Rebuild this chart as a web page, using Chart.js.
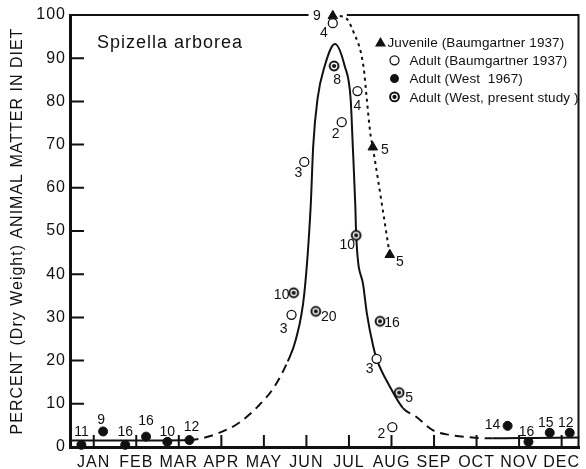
<!DOCTYPE html>
<html>
<head>
<meta charset="utf-8">
<script src="https://cdn.jsdelivr.net/npm/chart.js@4.4.1/dist/chart.umd.min.js"></script>
<style>
html,body{margin:0;padding:0;background:#fff;}
#wrap{width:586px;height:469px;}
canvas{display:block;}
</style>
</head>
<body>
<div id="wrap"><canvas id="c" width="586" height="469"></canvas></div>
<script>
// ---- categories / ticks ----
const monthLabels = ['JAN','FEB','MAR','APR','MAY','JUN','JUL','AUG','SEP','OCT','NOV','DEC'];
const yTicks = [0,10,20,30,40,50,60,70,80,90,100];

// ---- Juvenile (Baumgartner 1937) ----
const juvX = [5.62, 6.56, 6.96];
const juvY = [99.8, 69.4, 44.5];
const juvN = ['9','5','5'];

// ---- Adult (Baumgartner 1937) ----
const baumX = [5.62, 6.20, 5.83, 4.95, 4.65, 6.65, 7.02];
const baumY = [98.1, 82.4, 75.2, 66.0, 30.6, 20.4, 4.6];
const baumN = ['4','4','2','3','3','3','2'];

// ---- Adult (West 1967) ----
const west67X = [-0.29, 0.22, 0.74, 1.23, 1.73, 2.25, 9.73, 10.22, 10.72, 11.19];
const west67Y = [0.5, 3.6, 0.5, 2.4, 1.2, 1.6, 4.9, 1.2, 3.3, 3.3];
const west67N = ['11','9','16','16','10','12','14','16','15','12'];

// ---- Adult (West, present study) ----
const westX = [5.65, 6.17, 4.70, 5.22, 6.73, 7.18];
const westY = [88.2, 49.0, 35.7, 31.4, 29.1, 12.6];
const westN = ['8','10','10','20','16','5'];

// ---- fitted adult curve ----
const curveX = [-0.56, 0.5, 1.5, 2.25, 2.54, 2.93, 3.40, 3.86, 4.25, 4.56, 4.75, 4.95, 5.10, 5.16, 5.26, 5.43, 5.67, 5.90, 6.04, 6.09, 6.15, 6.17, 6.34, 6.42, 6.57, 6.65, 6.96, 7.27, 7.58, 7.97, 8.36, 8.90, 9.37, 10.37, 11.42];
const curveY = [1.5, 1.5, 1.5, 1.6, 2.0, 3.2, 5.5, 9.4, 14.0, 19.8, 24.8, 35.5, 55.7, 69.7, 80.5, 88.2, 93.3, 88.2, 80.5, 69.7, 55.7, 49.0, 37.2, 31.0, 23.3, 20.4, 14.0, 9.0, 7.0, 3.9, 2.8, 2.2, 2.0, 2.1, 2.2];
const curveDashedRanges = [[3, 9], [27, 32]]; // index ranges drawn dashed

// ---- juvenile trend (dotted) ----
const juvCurveX = [5.62, 5.88, 6.11, 6.34, 6.42, 6.50, 6.56, 6.96];
const juvCurveY = [99.8, 99.6, 96.0, 88.2, 80.5, 72.8, 69.4, 44.5];

// ---- label placement offsets (px) for sample sizes ----
const juvOff = [[-16,0],[12,3],[10,7]];
const baumOff = [[-9,10],[0,15],[-6,12],[-6,11],[-8,14],[-7,10],[-11,7]];
const west67Off = [[0,-13],[-2,-11],[0,-13],[0,-15],[0,-10],[2,-13],[-15,-1],[-2,-10],[-4,-10],[-4,-10]];
const westOff = [[3,14],[-9,10],[-12,2],[13,6],[12,2],[10,6]];

const INK = '#111';
const FONT = '"Liberation Sans", Arial, sans-serif';

function pts(xs, ys){ return xs.map((v,i)=>({x:v, y:ys[i]})); }

function drawBull(g, cx, cy){
  g.beginPath(); g.arc(cx, cy, 4.4, 0, Math.PI*2); g.fillStyle = '#fff'; g.fill();
  g.lineWidth = 2; g.strokeStyle = INK; g.stroke();
  g.beginPath(); g.arc(cx, cy, 2.1, 0, Math.PI*2); g.fillStyle = INK; g.fill();
}
function makeBull(){
  const c = document.createElement('canvas'); c.width = 14; c.height = 14;
  drawBull(c.getContext('2d'), 7, 7);
  return c;
}
const bull = makeBull();

const series = [
  {x:juvX, y:juvY, n:juvN, off:juvOff},
  {x:baumX, y:baumY, n:baumN, off:baumOff},
  {x:west67X, y:west67Y, n:west67N, off:west67Off},
  {x:westX, y:westY, n:westN, off:westOff}
];

const decor = {
  id: 'decor',
  beforeDraw(chart){ chart.ctx.letterSpacing = '1px'; },
  beforeDatasetsDraw(chart){
    const {ctx, chartArea:a, scales:{x, y}} = chart;
    ctx.save();
    ctx.strokeStyle = INK; ctx.lineWidth = 2;
    ctx.beginPath();
    ctx.moveTo(a.left, a.top); ctx.lineTo(x.getPixelForValue(5.05), a.top);
    ctx.moveTo(x.getPixelForValue(5.95), a.top); ctx.lineTo(a.right, a.top);
    ctx.moveTo(a.right - 1, a.top); ctx.lineTo(a.right - 1, a.bottom);
    yTicks.forEach(v => { if (v > 0 && v < 100){ const py = y.getPixelForValue(v); ctx.moveTo(a.left, py); ctx.lineTo(a.left + 14, py); } });
    monthLabels.forEach((m, i) => { const px = x.getPixelForValue(i); ctx.moveTo(px, a.bottom); ctx.lineTo(px, a.bottom - 12); });
    ctx.stroke();
    ctx.restore();
  },
  afterDatasetsDraw(chart){
    const {ctx, chartArea:a, scales:{x, y}} = chart;
    ctx.save();
    ctx.fillStyle = INK;
    ctx.letterSpacing = '0px';
    ctx.font = '14px ' + FONT;
    ctx.textAlign = 'center'; ctx.textBaseline = 'middle';
    series.forEach(s => {
      s.x.forEach((v, i) => {
        const px = x.getPixelForValue(v) + s.off[i][0];
        const py = y.getPixelForValue(s.y[i]) + s.off[i][1];
        if (s === series[0] && i === 0){
          ctx.fillStyle = '#fff'; ctx.fillRect(px - 6, py - 8, 12, 16); ctx.fillStyle = INK;
        }
        ctx.fillText(s.n[i], px, py);
      });
    });
    // species name
    ctx.letterSpacing = '1px';
    ctx.font = '18px ' + FONT;
    ctx.textAlign = 'left';
    ctx.fillText('Spizella arborea', a.left + 27, a.top + 28);
    // legend
    ctx.letterSpacing = '0.1px';
    ctx.font = '13.5px ' + FONT;
    const lx = a.right - 199, ly = a.top + 27, step = 18.3;
    ctx.beginPath();
    ctx.moveTo(lx, ly - 5); ctx.lineTo(lx + 5.5, ly + 4.5); ctx.lineTo(lx - 5.5, ly + 4.5); ctx.closePath(); ctx.fill();
    ctx.fillText('Juvenile (Baumgartner 1937)', lx + 7, ly + 1);
    ctx.beginPath(); ctx.arc(lx + 14, ly + step, 4.5, 0, Math.PI*2);
    ctx.lineWidth = 1.3; ctx.strokeStyle = INK; ctx.stroke();
    ctx.fillText('Adult (Baumgartner 1937)', lx + 29, ly + step + 1);
    ctx.beginPath(); ctx.arc(lx + 14, ly + 2*step, 4.5, 0, Math.PI*2); ctx.fill();
    ctx.fillText('Adult (West  1967)', lx + 29, ly + 2*step + 1);
    drawBull(ctx, lx + 14, ly + 3*step);
    ctx.fillStyle = INK;
    ctx.fillText('Adult (West, present study )', lx + 29, ly + 3*step + 1);
    ctx.restore();
  }
};

new Chart(document.getElementById('c'), {
  type: 'line',
  data: {
    datasets: [
      { label:'Juvenile (Baumgartner 1937)', data: pts(juvX, juvY), showLine:false,
        pointStyle:'triangle', pointRadius:5.5, pointBackgroundColor:INK, pointBorderColor:INK, pointBorderWidth:1, clip:false, order:1 },
      { label:'Adult (Baumgartner 1937)', data: pts(baumX, baumY), showLine:false,
        pointStyle:'circle', pointRadius:4.5, pointBackgroundColor:'#fff', pointBorderColor:INK, pointBorderWidth:1.3, clip:false, order:1 },
      { label:'Adult (West 1967)', data: pts(west67X, west67Y), showLine:false,
        pointStyle:'circle', pointRadius:4.5, pointBackgroundColor:INK, pointBorderColor:INK, pointBorderWidth:1, clip:false, order:1 },
      { label:'Adult (West, present study)', data: pts(westX, westY), showLine:false,
        pointStyle:bull, pointRadius:5, clip:false, order:1 },
      { label:'adult curve', data: pts(curveX, curveY), showLine:true, pointRadius:0,
        borderColor:INK, borderWidth:2, cubicInterpolationMode:'monotone', fill:false, order:5,
        segment:{ borderDash: c => curveDashedRanges.some(r => c.p0DataIndex >= r[0] && c.p0DataIndex < r[1]) ? [9,6] : [] } },
      { label:'juvenile curve', data: pts(juvCurveX, juvCurveY), showLine:true, pointRadius:0,
        borderColor:INK, borderWidth:2, borderDash:[3,4], cubicInterpolationMode:'monotone', fill:false, clip:false, order:6 }
    ]
  },
  options: {
    responsive:false, animation:false, devicePixelRatio:1,
    layout:{ padding:{ top:15, right:1, left:0, bottom:0 } },
    plugins:{ legend:{display:false}, tooltip:{enabled:false} },
    scales:{
      x:{ type:'linear', min:-0.558, max:11.42,
        afterBuildTicks: s => { s.ticks = monthLabels.map((m,i)=>({value:i})); },
        afterFit: s => { s.height = 22; },
        ticks:{ autoSkip:false, maxRotation:0, color:INK, padding:6, font:{ family:FONT, size:16 },
          callback: v => monthLabels[v] },
        grid:{ drawOnChartArea:false, drawTicks:false },
        border:{ display:true, width:3, color:INK }
      },
      y:{ type:'linear', min:0, max:100,
        afterBuildTicks: s => { s.ticks = yTicks.map(v=>({value:v})); },
        afterFit: s => { s.width = 70; },
        ticks:{ color:INK, padding:4, font:{ family:FONT, size:16 } },
        grid:{ drawOnChartArea:false, drawTicks:false },
        border:{ display:true, width:3, color:INK },
        title:{ display:true, text:'PERCENT (Dry Weight) ANIMAL MATTER IN DIET', color:INK,
          font:{ family:FONT, size:16 }, padding:{ top:8, bottom:0 } }
      }
    }
  },
  plugins:[decor]
});
</script>
</body>
</html>
